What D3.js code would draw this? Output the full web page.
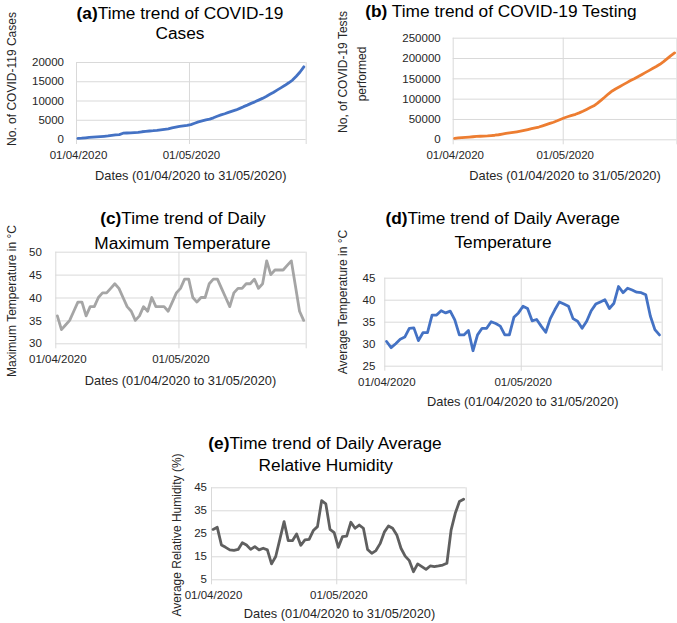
<!DOCTYPE html>
<html><head><meta charset="utf-8">
<script src="https://cdn.jsdelivr.net/npm/d3@7"></script>
<style>
html,body{margin:0;padding:0;background:#fff;}
svg{display:block;font-family:"Liberation Sans",Arial,sans-serif;}
</style></head>
<body>
<svg id="chart" width="677" height="623"></svg>
<script>
// ---- data (01/04/2020 .. 31/05/2020, 61 days) ----
const startDate = new Date(2020, 3, 1);
const endDate = new Date(2020, 5, 1);
const days = d3.timeDay.range(startDate, endDate); // 61 daily categories
const xTickDates = [new Date(2020, 3, 1), new Date(2020, 4, 1), new Date(2020, 5, 1)];
const xTickLabels = ["01/04/2020", "01/05/2020", ""];
const xAxisTitle = "Dates (01/04/2020 to 31/05/2020)";

const casesValues = [150,220,320,420,480,530,600,690,800,950,1080,1150,1500,1560,1600,1650,1720,1880,2000,2080,
  2150,2250,2380,2520,2650,2900,3100,3300,3430,3550,3750,4100,4450,4700,4950,5150,5500,5900,6250,6550,
  6900,7250,7550,7950,8400,8800,9250,9650,10100,10550,11050,11600,12150,12750,13350,13950,14600,15300,16300,17400,18750];
const testsValues = [2500,3300,4100,4900,5600,6300,7000,7500,8000,8500,9200,10000,11200,12800,14300,15700,17000,18500,20200,22000,
  24000,26000,28000,30200,33000,36000,39000,42000,45500,49500,53000,56000,59000,61500,65000,69000,73500,78000,82500,89000,
  96500,104000,112000,119000,124500,129500,134500,139500,144500,149000,154000,159000,164000,169000,174000,179000,184500,191000,198500,206000,212500];
const maxTempValues = [36,33,34,35,37,39,39,36,38,38,40,41,41,42,43,42,40,38,37,35,
  36,38,37,40,38,38,38,37,39,41,42,44,44,40,39,40,40,43,44,44,
  42,40,38,41,42,42,43,43,44,42,43,48,45,46,46,46,47,48,42.5,37,35];
const avgTempValues = [30.5,29.1,30.0,31.0,31.5,33.5,33.6,30.7,32.5,32.5,36.5,36.5,37.5,37.0,37.4,35.4,32.0,32.0,33.0,28.4,
  32.0,33.5,33.5,35.0,34.6,34.0,32.0,32.0,36.0,37.0,38.5,38.0,35.2,35.5,34.0,32.6,35.7,37.7,39.5,39.0,
  38.5,35.7,35.1,33.5,35.1,37.5,39.0,39.5,40.0,38.0,39.2,43.0,41.6,42.6,42.2,41.7,41.6,41.1,36.3,33.2,32.0];
const humidityValues = [26.7,27.6,19.9,18.9,17.8,17.6,18.0,20.9,19.9,18.0,19.2,17.8,18.5,17.8,11.7,14.9,22.5,30.1,21.8,21.8,
  24.7,19.8,22.1,22.4,26.2,27.9,39.2,37.8,26.7,25.3,18.9,23.6,23.8,29.8,27.2,28.6,27.2,18.0,16.3,17.5,
  20.5,25.5,28.2,27.2,24.3,18.5,15.1,13.1,8.3,11.7,10.5,9.3,10.8,10.5,10.8,11.2,12.0,26.4,33.7,38.8,39.8];

const casesTicks = [0,5000,10000,15000,20000];
const testsTicks = [0,50000,100000,150000,200000,250000];
const maxTempTicks = [30,35,40,45,50];
const avgTempTicks = [25,30,35,40,45];
const humidityTicks = [5,15,25,35,45];

// ---- layout / style ----
const panels = [
  {values: casesValues, ticks: casesTicks, color:"#4472C4",
   box:[76,305.7,62,139], ylabGap:12,
   title:[{t:"(a)", rest:"Time trend of COVID-19", x:180, y:12.5},{t:"", rest:"Cases", x:180, y:32.5}],
   ytitle:[{text:"No. of COVID-119 Cases", x:12, y:79}],
   xtitle:{x:190.8, y:175}},
  {values: testsValues, ticks: testsTicks, color:"#ED7D31",
   box:[452.7,676.4,37.7,139.3], ylabGap:12,
   title:[{t:"(b)", rest:" Time trend of COVID-19 Testing", x:501, y:11}],
   ytitle:[{text:"No, of COVID-19 Tests", x:343, y:72},{text:"performed", x:362, y:74}],
   xtitle:{x:565, y:175.7}},
  {values: maxTempValues, ticks: maxTempTicks, color:"#A5A5A5",
   box:[55.3,305.7,251.7,343.3], ylabGap:13.5,
   title:[{t:"(c)", rest:"Time trend of Daily", x:183, y:218},{t:"", rest:"Maximum Temperature", x:182.5, y:242.7}],
   ytitle:[{text:"Maximum Temperature in °C", x:12, y:301}],
   xtitle:{x:180.5, y:380}},
  {values: avgTempValues, ticks: avgTempTicks, color:"#4472C4",
   box:[384.3,661.7,277.7,365.7], ylabGap:9,
   title:[{t:"(d)", rest:"Time trend of Daily Average", x:502.7, y:218.3},{t:"", rest:"Temperature", x:503, y:241.7}],
   ytitle:[{text:"Average Temperature in °C", x:343, y:302}],
   xtitle:{x:522.8, y:401.7}},
  {values: humidityValues, ticks: humidityTicks, color:"#5F5F5F",
   box:[211,465.7,487.3,579.3], ylabGap:4,
   title:[{t:"(e)", rest:"Time trend of Daily Average", x:325, y:443.3},{t:"", rest:"Relative Humidity", x:325.8, y:465}],
   ytitle:[{text:"Average Relative Humidity (%)", x:176.7, y:535}],
   xtitle:{x:339.5, y:613.3}}
];

const svg = d3.select("#chart");
const gridColor = "#d9d9d9";
const tickFont = 11.5, axTitleFont = 12.8, yTitleFont = 12, titleFont = 17.3;

panels.forEach(p => {
  const [x0,x1,y0,y1] = p.box;
  const g = svg.append("g");
  const x = d3.scaleTime().domain([startDate, endDate]).range([x0,x1]);
  const y = d3.scaleLinear().domain([p.ticks[0], p.ticks[p.ticks.length-1]]).range([y1,y0]);

  // horizontal gridlines + y tick labels
  const ya = g.append("g").attr("transform",`translate(${x0},0)`)
    .call(d3.axisLeft(y).tickValues(p.ticks).tickSizeInner(-(x1-x0)).tickSizeOuter(0).tickPadding(p.ylabGap).tickFormat(d3.format("d")));
  ya.select(".domain").remove();
  ya.selectAll("line").attr("stroke",gridColor).attr("stroke-width",1);
  ya.selectAll("text").attr("font-size",tickFont).attr("fill","#262626").attr("font-family","Liberation Sans, Arial, sans-serif");

  // vertical gridlines + x tick labels
  const xa = g.append("g").attr("transform",`translate(0,${y1})`)
    .call(d3.axisBottom(x).tickValues(xTickDates).tickSizeInner(-(y1-y0)).tickSizeOuter(0)
      .tickFormat((d,i)=>xTickLabels[i]));
  xa.select(".domain").remove();
  xa.selectAll("line").attr("stroke",gridColor).attr("stroke-width",1).attr("y1",5);
  xa.selectAll("text").attr("y",16).attr("dy","0.35em").attr("dx",2)
    .attr("font-size",tickFont).attr("fill","#262626").attr("font-family","Liberation Sans, Arial, sans-serif");

  // series line (points at the middle of each day)
  const line = d3.line()
    .x((d,i)=>x(d3.timeHour.offset(days[i],12)))
    .y(d=>y(d));
  g.append("path").datum(p.values)
    .attr("d",line).attr("fill","none").attr("stroke",p.color)
    .attr("stroke-width",2.8).attr("stroke-linejoin","round").attr("stroke-linecap","round");

  // titles
  p.title.forEach(t=>{
    const tx = g.append("text").attr("x",t.x).attr("y",t.y).attr("text-anchor","middle")
      .attr("dominant-baseline","central").attr("font-size",titleFont).attr("fill","#000");
    if (t.t) tx.append("tspan").attr("font-weight","bold").text(t.t);
    tx.append("tspan").text(t.rest);
  });
  p.ytitle.forEach(t=>{
    g.append("text").attr("transform",`translate(${t.x},${t.y}) rotate(-90)`)
      .attr("text-anchor","middle").attr("dominant-baseline","central")
      .attr("font-size",yTitleFont).attr("fill","#262626").text(t.text);
  });
  g.append("text").attr("x",p.xtitle.x).attr("y",p.xtitle.y).attr("text-anchor","middle")
    .attr("dominant-baseline","central").attr("font-size",axTitleFont).attr("fill","#262626").text(xAxisTitle);
});
</script>
</body></html>
